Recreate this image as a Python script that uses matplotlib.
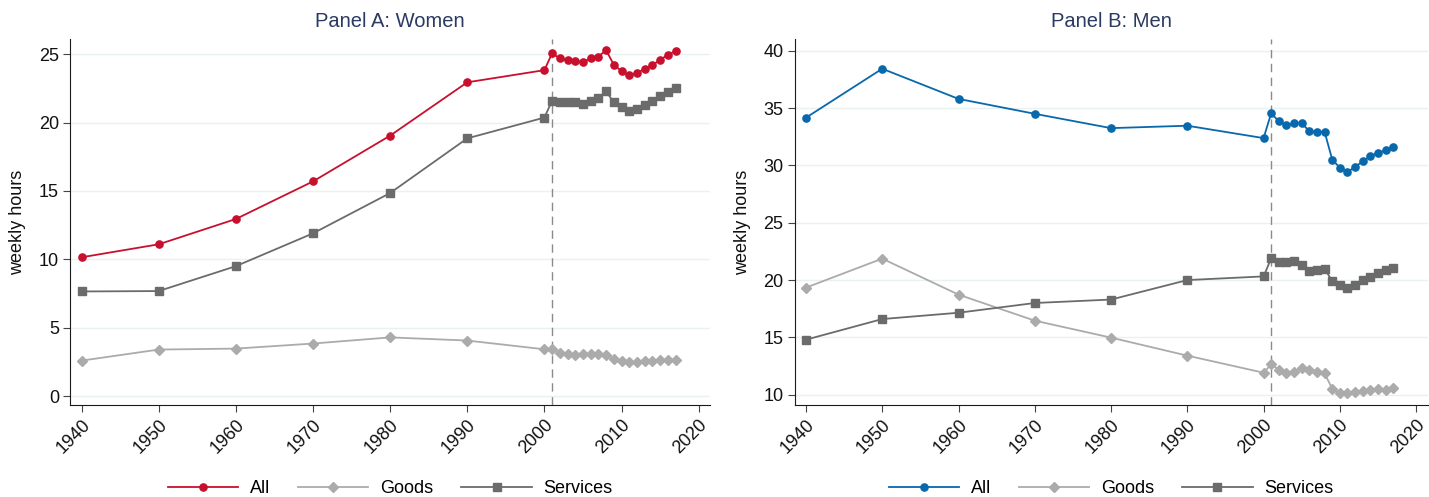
import matplotlib.pyplot as plt

plt.rcParams['font.family'] = ['Liberation Sans', 'DejaVu Sans']

years = [1940, 1950, 1960, 1970, 1980, 1990, 2000,
         2001, 2002, 2003, 2004, 2005, 2006, 2007, 2008, 2009,
         2010, 2011, 2012, 2013, 2014, 2015, 2016, 2017]

women_all = [10.15, 11.1, 12.95, 15.7, 19.05, 22.95, 23.84,
             25.07, 24.7, 24.56, 24.5, 24.43, 24.7, 24.83, 25.3, 24.24,
             23.77, 23.45, 23.62, 23.94, 24.2, 24.6, 24.95, 25.25]
women_goods = [2.59, 3.4, 3.47, 3.84, 4.29, 4.06, 3.42,
               3.42, 3.18, 3.05, 3.0, 3.1, 3.1, 3.05, 2.98, 2.7,
               2.55, 2.5, 2.5, 2.55, 2.57, 2.6, 2.6, 2.65]
women_services = [7.65, 7.68, 9.5, 11.9, 14.85, 18.85, 20.37,
                  21.6, 21.48, 21.48, 21.5, 21.33, 21.58, 21.77, 22.3, 21.48,
                  21.13, 20.86, 20.99, 21.28, 21.58, 21.95, 22.27, 22.5]

men_all = [34.16, 38.43, 35.8, 34.5, 33.25, 33.46, 32.38,
           34.56, 33.83, 33.48, 33.68, 33.68, 32.98, 32.9, 32.93, 30.5,
           29.8, 29.42, 29.88, 30.35, 30.8, 31.1, 31.3, 31.63]
men_goods = [19.34, 21.87, 18.73, 16.46, 14.98, 13.41, 11.92,
             12.65, 12.18, 11.92, 11.98, 12.3, 12.12, 11.98, 11.86, 10.52,
             10.12, 10.17, 10.26, 10.32, 10.38, 10.5, 10.41, 10.58]
men_services = [14.8, 16.6, 17.15, 18.0, 18.3, 20.0, 20.32,
                21.9, 21.55, 21.55, 21.7, 21.33, 20.82, 20.9, 21.0, 19.9,
                19.6, 19.3, 19.57, 20.0, 20.3, 20.6, 20.87, 21.05]

xticks = [1940, 1950, 1960, 1970, 1980, 1990, 2000, 2010, 2020]
break_year = 2001

fig = plt.figure(figsize=(14.29, 4.97), dpi=100)
ax1 = fig.add_axes([0.049, 0.185, 0.448, 0.736])
ax2 = fig.add_axes([0.556, 0.185, 0.443, 0.736])

panels = [
    (ax1, 'Panel A: Women', women_all, women_goods, women_services, '#c8102e',
     [0, 5, 10, 15, 20, 25], (-0.66, 26.1)),
    (ax2, 'Panel B: Men', men_all, men_goods, men_services, '#0868ac',
     [10, 15, 20, 25, 30, 35, 40], (9.1, 41.0)),
]

fs = 13

for ax, title, a, g, s, col, yticks, ylim in panels:
    ax.plot(years, a, color=col, marker='o', markersize=5.2, lw=1.3, label='All')
    ax.plot(years, g, color='#ababab', marker='D', markersize=4.6, lw=1.3, label='Goods')
    ax.plot(years, s, color='#6b6b6b', marker='s', markersize=5.2, lw=1.3, label='Services')
    ax.axvline(break_year, color='#8a8a8a', lw=1.0, ls=(0, (6, 4)), zorder=1)
    ax.set_xlim(1938.5, 2021.5)
    ax.set_ylim(*ylim)
    ax.set_yticks(yticks)
    ax.set_xticks(xticks)
    ax.set_xticklabels([str(x) for x in xticks], rotation=45, ha='right',
                       rotation_mode='anchor')
    ax.grid(axis='y', color='#eaf1f3', lw=1.0, zorder=0)
    ax.set_axisbelow(True)
    for side in ['top', 'right']:
        ax.spines[side].set_visible(False)
    ax.spines['left'].set_color('#1a1a1a')
    ax.spines['bottom'].set_color('#1a1a1a')
    ax.tick_params(direction='out', length=5, color='#444444', labelsize=fs,
                   labelcolor='#111111', pad=3)
    ax.set_ylabel('weekly hours', fontsize=fs, color='#111111')
    ax.set_title(title, fontsize=14.5, color='#2a3a62', pad=9)
    ax.legend(loc='center', bbox_to_anchor=(0.5, -0.228), ncol=3,
              frameon=False, fontsize=fs, handlelength=3.9, columnspacing=1.55,
              handletextpad=0.65)

ax1.yaxis.set_label_coords(-0.068, 0.5)
ax2.yaxis.set_label_coords(-0.068, 0.5)

fig.savefig('out.png', dpi=100)
